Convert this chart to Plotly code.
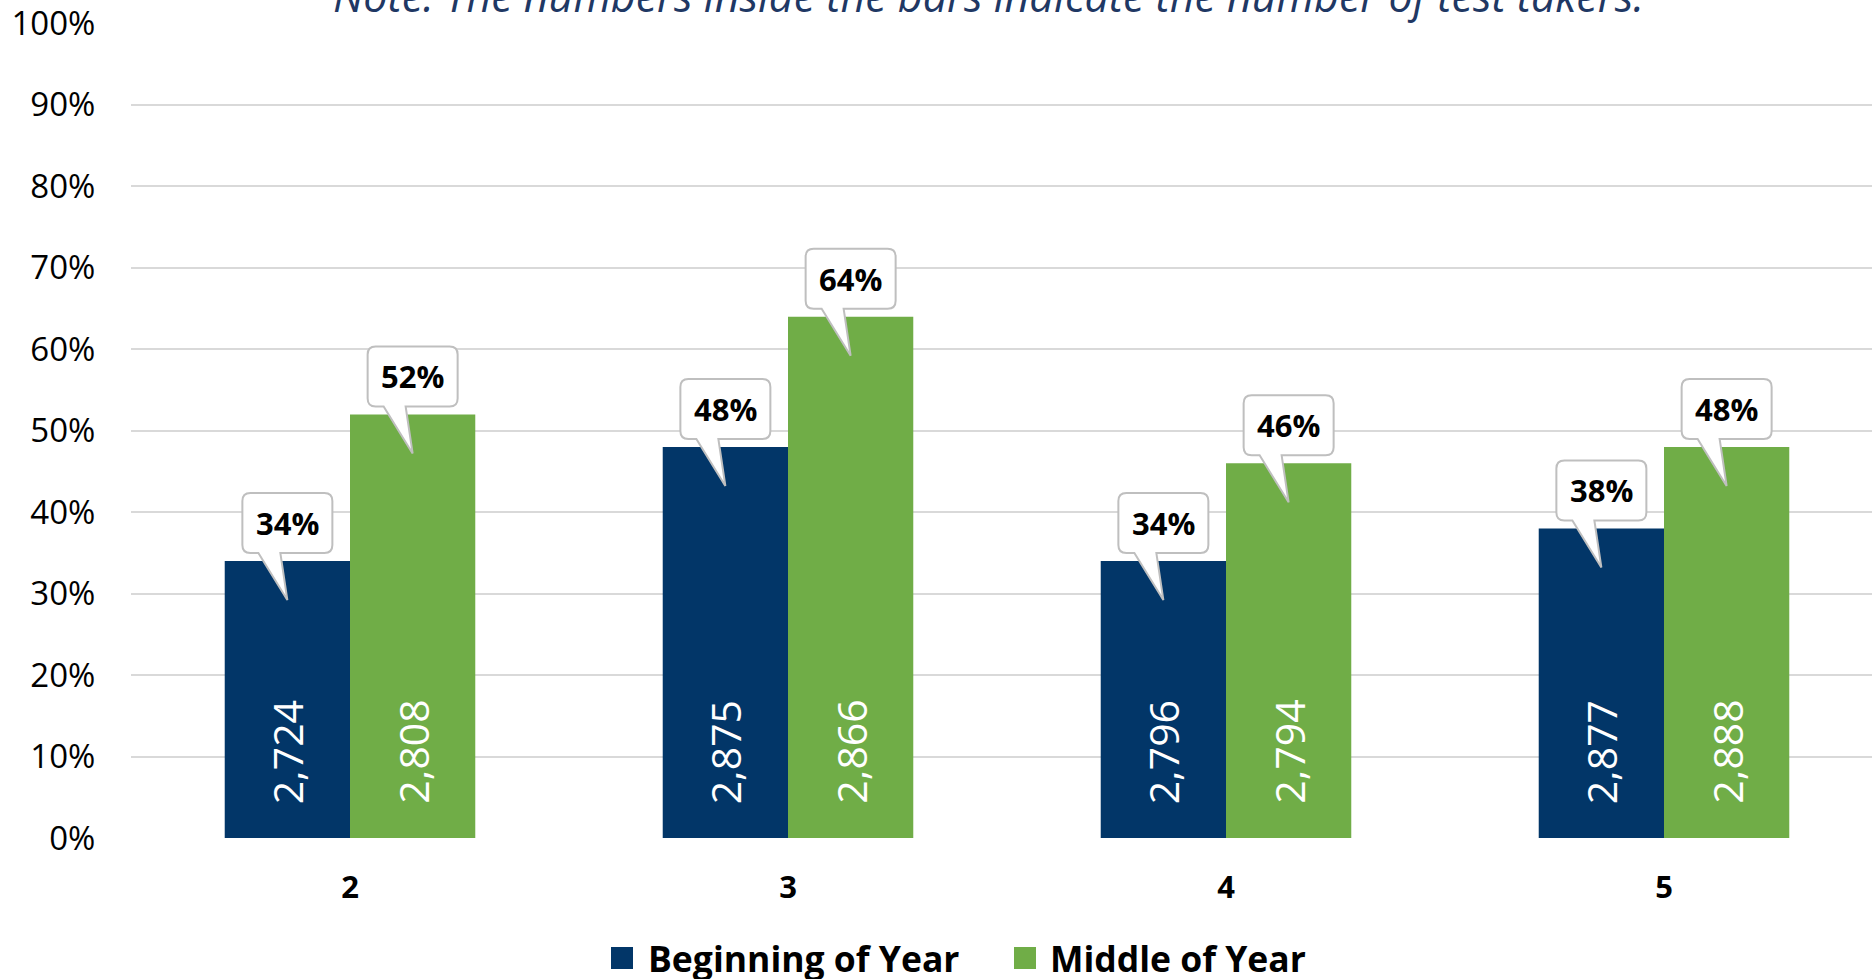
import plotly.graph_objects as go

grades = ["2", "3", "4", "5"]
series_names = ["Beginning of Year", "Middle of Year"]
boy_pct = [0.34, 0.48, 0.34, 0.38]
moy_pct = [0.52, 0.64, 0.46, 0.48]
boy_n = [2724, 2875, 2796, 2877]
moy_n = [2808, 2866, 2794, 2888]
colors = ["#023668", "#70AD47"]
note = "Note: The numbers inside the bars indicate the number of test takers."

W, H = 1872, 979
ML, MR, MT, MB = 131, 0, 23, 141
PW, PH = W - ML - MR, H - MT - MB
FONT = "Open Sans"
BARGAP = 0.428
half = (1 - BARGAP) / 4  # offset of each bar centre from category centre

xpos = list(range(len(grades)))
ytick_vals = [i / 10 for i in range(11)]

fig = go.Figure()
for name, vals, col in zip(series_names, [boy_pct, moy_pct], colors):
    fig.add_trace(go.Bar(x=xpos, y=vals, name=name, marker=dict(color=col, line=dict(width=0)),
                         hoverinfo="skip", showlegend=False))

shapes = []
annotations = []
r = 8
bx0, bx1, by0, by1 = -45, 45, 8, 68
callout_path = (
    f"M {bx0+r},{by1} L {bx1-r},{by1} Q {bx1},{by1} {bx1},{by1-r} "
    f"L {bx1},{by0+r} Q {bx1},{by0} {bx1-r},{by0} "
    f"L -7,{by0} L 0,-39 L -29,{by0} "
    f"L {bx0+r},{by0} Q {bx0},{by0} {bx0},{by0+r} "
    f"L {bx0},{by1-r} Q {bx0},{by1} {bx0+r},{by1} Z"
)

for si, (vals, counts) in enumerate([(boy_pct, boy_n), (moy_pct, moy_n)]):
    off = -half if si == 0 else half
    for i, (v, n) in enumerate(zip(vals, counts)):
        xc = xpos[i] + off
        shapes.append(dict(type="path", xref="x", yref="y", xsizemode="pixel", ysizemode="pixel",
                           xanchor=xc, yanchor=v, path=callout_path,
                           fillcolor="white", line=dict(color="#BFBFBF", width=2), layer="above"))
        annotations.append(dict(x=xc, y=v, xref="x", yref="y", text=f"<b>{round(v*100)}%</b>",
                                showarrow=False, yshift=38, xanchor="center", yanchor="middle",
                                font=dict(family=FONT, size=31, color="black")))
        annotations.append(dict(x=xc, y=0, xref="x", yref="y", text=f"{n:,}", textangle=-90,
                                showarrow=False, yshift=32, xanchor="center", yanchor="bottom",
                                font=dict(family=FONT, size=41, color="white")))

def px2x(px):
    return (px - ML) / PW

def py2y(py):
    return (H - MB - py) / PH

# manual legend
leg_items = [(611, 646), (1014, 1048)]
for (sq_x, tx), name, col in zip(leg_items, series_names, colors):
    shapes.append(dict(type="rect", xref="paper", yref="paper",
                       x0=px2x(sq_x), x1=px2x(sq_x + 22), y0=py2y(969), y1=py2y(947),
                       fillcolor=col, line=dict(width=0)))
    annotations.append(dict(x=px2x(tx), y=py2y(958), xref="paper", yref="paper", text=f"<b>{name}</b>",
                            showarrow=False, xanchor="left", yanchor="middle",
                            font=dict(family=FONT, size=35.5, color="black")))

annotations.append(dict(x=px2x(988), y=1, xref="paper", yref="paper", text=f"<i>{note}</i>",
                        showarrow=False, xanchor="center", yanchor="bottom", yshift=-4,
                        font=dict(family=FONT, size=43, color="#1F3864")))

fig.update_layout(
    width=W, height=H,
    margin=dict(l=ML, r=MR, t=MT, b=MB, pad=0, autoexpand=False),
    paper_bgcolor="white", plot_bgcolor="white",
    barmode="group", bargap=BARGAP, bargroupgap=0,
    shapes=shapes, annotations=annotations,
    font=dict(family=FONT, color="black"),
    showlegend=False,
)
fig.update_xaxes(range=[-0.5, -0.5 + PW / 438], tickvals=xpos, ticktext=[f"<b>{g}</b>" for g in grades],
                 tickfont=dict(family=FONT, size=31, color="black"), showgrid=False, zeroline=False,
                 showline=False, ticks="outside", ticklen=22, tickcolor="rgba(0,0,0,0)", fixedrange=True,
                 automargin=False)
fig.update_yaxes(range=[0, 1.0005], tickvals=ytick_vals, tickformat=".0%", showgrid=True,
                 gridcolor="#D9D9D9", gridwidth=2, ticklabeloverflow="allow",
                 zeroline=False, showline=False, tickfont=dict(family=FONT, size=33, color="black"),
                 ticks="outside", ticklen=28, tickcolor="rgba(0,0,0,0)", fixedrange=True,
                 automargin=False)

fig.write_html("out.html", config={"displayModeBar": False},
               post_script="document.body.style.margin='0';document.body.style.overflow='hidden';")
